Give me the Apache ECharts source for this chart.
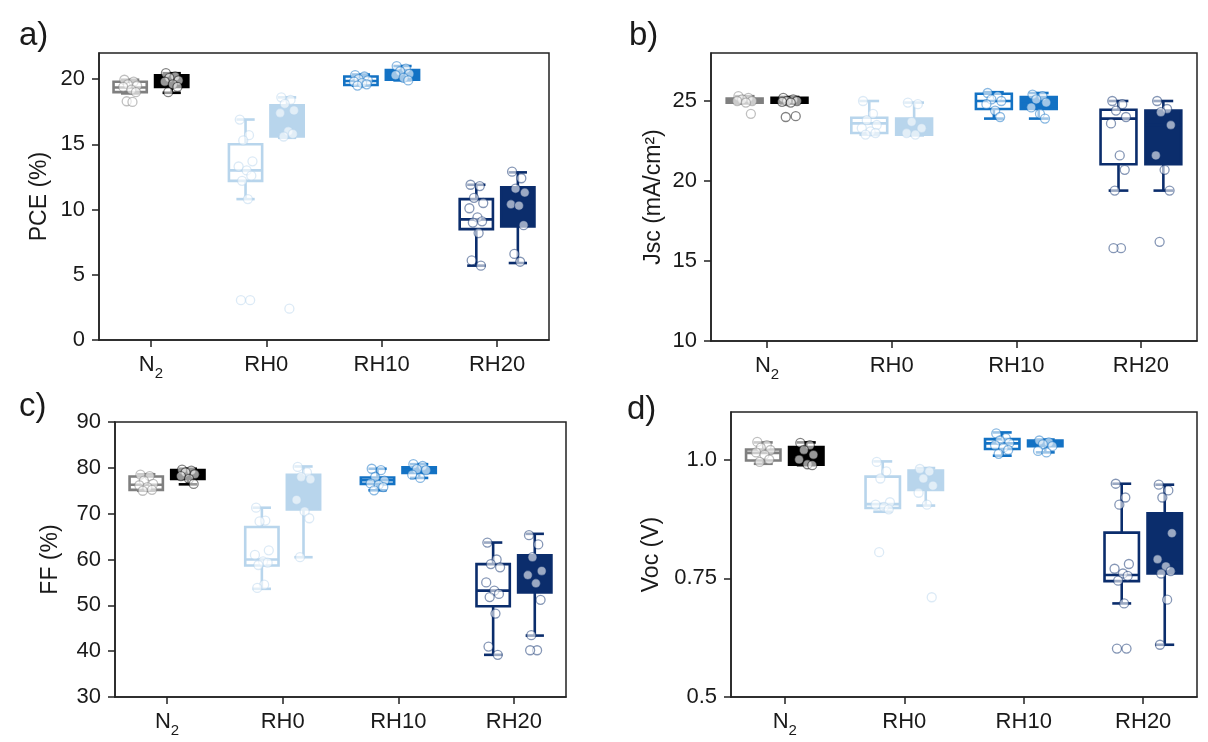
<!DOCTYPE html>
<html><head><meta charset="utf-8">
<script src="https://cdn.jsdelivr.net/npm/echarts@6/dist/echarts.min.js"></script>
<style>html,body{margin:0;padding:0;background:#fff}#c{width:1208px;height:742px}</style>
</head><body><div id="c"></div>
<script>
const categories = ['N2', 'RH0', 'RH10', 'RH20'];

// Box statistics: [lower whisker, Q1, median, Q3, upper whisker]
const pceBoxOpen   = [[18.9, 19.0, 19.35, 19.8, 19.95], [10.8, 12.2, 13.0, 15.0, 16.9], [19.5, 19.55, 19.85, 20.2, 20.35], [5.7, 8.5, 9.25, 10.8, 11.9]];
const pceBoxFilled = [[18.95, 19.4, 19.7, 20.3, 20.45], [15.5, 15.6, 16.6, 18.0, 18.6], [19.9, 19.95, 20.3, 20.7, 21.0], [5.9, 8.7, 10.3, 11.7, 12.85]];
const pcePtsOpen   = [[19.95, 19.8, 19.6, 19.5, 19.4, 19.2, 19.0, 18.3, 18.25], [16.9, 15.7, 15.3, 13.7, 13.3, 13.0, 12.6, 12.2, 10.8, 3.05, 3.05], [20.3, 20.2, 20.0, 19.9, 19.8, 19.7, 19.6, 19.5], [11.9, 11.8, 10.9, 10.5, 10.1, 9.4, 9.1, 9.0, 8.2, 6.1, 5.7]];
const pcePtsFilled = [[20.45, 20.2, 20.1, 19.9, 19.8, 19.6, 19.4, 19.0], [18.6, 18.4, 18.1, 17.6, 17.4, 16.0, 15.8, 15.6, 2.4], [21.0, 20.8, 20.6, 20.4, 20.3, 20.1, 19.9], [12.9, 12.4, 11.6, 11.3, 10.4, 10.3, 8.8, 6.6, 6.0]];

const jscBoxOpen   = [[24.85, 24.9, 25.0, 25.15, 25.3], [22.9, 23.0, 23.6, 23.95, 25.0], [23.9, 24.5, 25.0, 25.45, 25.55], [19.4, 21.05, 23.9, 24.45, 25.0]];
const jscBoxFilled = [[24.85, 24.9, 25.0, 25.2, 25.25], [22.85, 22.9, 23.3, 23.9, 24.9], [23.9, 24.5, 25.0, 25.25, 25.5], [19.4, 21.05, 23.5, 24.4, 25.0]];
const jscPtsOpen   = [[25.3, 25.2, 25.1, 25.0, 25.0, 24.9, 24.2], [25.0, 24.2, 23.8, 23.5, 23.3, 23.1, 23.0, 22.9], [25.5, 25.3, 25.1, 25.0, 24.8, 24.4, 24.0], [25.0, 24.8, 24.4, 24.0, 23.6, 21.6, 20.7, 19.4, 15.8, 15.8]];
const jscPtsFilled = [[25.2, 25.1, 25.0, 25.0, 24.95, 24.9, 24.05, 24.0], [24.9, 24.8, 23.7, 23.3, 23.0, 22.9], [25.4, 25.3, 25.1, 24.9, 24.6, 24.2, 23.9], [25.0, 24.5, 24.3, 23.5, 21.6, 20.7, 19.4, 16.2]];

const ffBoxOpen   = [[75.0, 75.2, 76.3, 78.1, 78.6], [53.6, 58.7, 60.0, 67.1, 71.3], [75.1, 76.5, 77.3, 77.9, 79.8], [39.2, 49.8, 53.2, 59.0, 63.7]];
const ffBoxFilled = [[76.4, 77.6, 78.5, 79.5, 79.8], [60.5, 70.9, 73.5, 78.5, 80.3], [77.8, 78.9, 79.5, 80.1, 80.8], [43.4, 52.8, 56.8, 60.9, 65.6]];
const ffPtsOpen   = [[78.5, 78.2, 77.2, 76.5, 76.2, 75.8, 75.2, 75.0], [71.3, 68.5, 68.3, 62.0, 61.0, 59.6, 59.3, 58.8, 54.5, 53.8], [79.8, 79.5, 78.0, 77.2, 76.6, 76.3, 75.8, 75.1], [63.7, 60.0, 59.0, 58.3, 55.0, 53.2, 52.5, 51.8, 48.2, 41.0, 39.2]];
const ffPtsFilled = [[79.6, 79.4, 79.0, 78.6, 78.2, 77.6, 76.5], [80.2, 79.0, 78.0, 77.5, 73.0, 70.5, 69.0, 60.5], [80.8, 80.4, 79.7, 79.5, 78.5, 77.8], [65.3, 63.3, 60.5, 57.5, 56.6, 54.8, 51.2, 43.5, 40.2, 40.2]];

const vocBoxOpen   = [[0.991, 0.998, 1.014, 1.021, 1.036], [0.89, 0.898, 0.906, 0.964, 0.996], [1.008, 1.022, 1.034, 1.043, 1.057], [0.697, 0.744, 0.757, 0.846, 0.949]];
const vocBoxFilled = [[0.988, 0.989, 1.01, 1.026, 1.036], [0.903, 0.936, 0.955, 0.977, 0.982], [1.015, 1.028, 1.034, 1.04, 1.042], [0.61, 0.76, 0.79, 0.887, 0.947]];
const vocPtsOpen   = [[1.037, 1.03, 1.025, 1.02, 1.015, 1.01, 1.0, 0.995], [0.995, 0.975, 0.96, 0.91, 0.905, 0.9, 0.895, 0.805], [1.055, 1.045, 1.04, 1.035, 1.03, 1.025, 1.02, 1.012], [0.949, 0.92, 0.905, 0.78, 0.77, 0.76, 0.755, 0.745, 0.697, 0.602, 0.602]];
const vocPtsFilled = [[1.035, 1.03, 1.02, 1.01, 1.0, 0.99, 0.988], [0.98, 0.975, 0.96, 0.945, 0.93, 0.905, 0.71], [1.04, 1.036, 1.032, 1.028, 1.018, 1.015], [0.947, 0.935, 0.92, 0.845, 0.79, 0.775, 0.765, 0.76, 0.705, 0.61]];

const pceTicks = [0, 5, 10, 15, 20];
const pceTickLabels = ['0', '5', '10', '15', '20'];
const jscTicks = [10, 15, 20, 25];
const jscTickLabels = ['10', '15', '20', '25'];
const ffTicks = [30, 40, 50, 60, 70, 80, 90];
const ffTickLabels = ['30', '40', '50', '60', '70', '80', '90'];
const vocTicks = [0.5, 0.75, 1.0];
const vocTickLabels = ['0.5', '0.75', '1.0'];

// ---------- styling / layout ----------
const COLORS_OPEN = ['#7f7f7f', '#b8d5ec', '#1372c4', '#0b2d6c'];
const COLORS_FILLED = ['#000000', '#b8d5ec', '#1372c4', '#0b2d6c'];
const DODGE = 0.18, BOX_W = 0.288, CAP = 0.55;
const JITTER = [-0.05, 0.03, -0.02, 0.06, -0.06, 0.01, 0.05, -0.03, 0.02, -0.04, 0.04, 0.0];
const FONT = 'Liberation Sans, Arial, sans-serif';
const TXT = '#1a1a1a';
const FS = 22, FS_NAME = 23;

const panels = [
  {letter: 'a)', name: 'PCE (%)', min: 0, max: 22, ticks: pceTicks, labels: pceTickLabels,
   grid: {left: 99, top: 53, width: 450, height: 287}, nameGap: 48,
   bo: pceBoxOpen, bf: pceBoxFilled, po: pcePtsOpen, pf: pcePtsFilled, lx: 19, ly: 19},
  {letter: 'b)', name: 'Jsc (mA/cm²)', min: 10, max: 28, ticks: jscTicks, labels: jscTickLabels,
   grid: {left: 711, top: 53, width: 486, height: 288}, nameGap: 46,
   bo: jscBoxOpen, bf: jscBoxFilled, po: jscPtsOpen, pf: jscPtsFilled, lx: 629, ly: 19},
  {letter: 'c)', name: 'FF (%)', min: 30, max: 90, ticks: ffTicks, labels: ffTickLabels,
   grid: {left: 115, top: 422, width: 451, height: 275}, nameGap: 53,
   bo: ffBoxOpen, bf: ffBoxFilled, po: ffPtsOpen, pf: ffPtsFilled, lx: 19, ly: 390},
  {letter: 'd)', name: 'Voc (V)', min: 0.5, max: 1.1, ticks: vocTicks, labels: vocTickLabels,
   grid: {left: 731, top: 412, width: 466, height: 285}, nameGap: 68,
   bo: vocBoxOpen, bf: vocBoxFilled, po: vocPtsOpen, pf: vocPtsFilled, lx: 627, ly: 393}
];

function renderBox(filled) {
  return function (params, api) {
    const x = api.value(0);
    const ci = Math.round(x);
    const col = filled ? COLORS_FILLED[ci] : COLORS_OPEN[ci];
    const cx = api.coord([x, api.value(3)])[0];
    const yLo = api.coord([x, api.value(1)])[1];
    const yQ1 = api.coord([x, api.value(2)])[1];
    const yMed = api.coord([x, api.value(3)])[1];
    const yQ3 = api.coord([x, api.value(4)])[1];
    const yHi = api.coord([x, api.value(5)])[1];
    const w = api.size([BOX_W, 0])[0];
    const ch = w * CAP / 2;
    const st = {stroke: col, lineWidth: 2.6, lineCap: 'butt'};
    return {type: 'group', children: [
      {type: 'line', shape: {x1: cx, y1: yQ3, x2: cx, y2: yHi}, style: st},
      {type: 'line', shape: {x1: cx, y1: yQ1, x2: cx, y2: yLo}, style: st},
      {type: 'line', shape: {x1: cx - ch, y1: yHi, x2: cx + ch, y2: yHi}, style: st},
      {type: 'line', shape: {x1: cx - ch, y1: yLo, x2: cx + ch, y2: yLo}, style: st},
      {type: 'rect', shape: {x: cx - w / 2, y: yQ3, width: w, height: yQ1 - yQ3},
       style: {fill: filled ? col : '#ffffff', stroke: col, lineWidth: 2.6}},
      {type: 'line', shape: {x1: cx - w / 2, y1: yMed, x2: cx + w / 2, y2: yMed}, style: st}
    ]};
  };
}

function hexA(hex, a) {
  const n = parseInt(hex.slice(1), 16);
  return 'rgba(' + (n >> 16) + ',' + ((n >> 8) & 255) + ',' + (n & 255) + ',' + a + ')';
}

const grids = [], xAxes = [], yAxes = [], series = [], graphics = [];
panels.forEach(function (p, k) {
  grids.push(Object.assign({show: true, borderColor: '#222', borderWidth: 1.5, backgroundColor: '#fff'}, p.grid));
  xAxes.push({
    type: 'value', gridIndex: k, min: -0.45, max: 3.45,
    splitLine: {show: false},
    axisLine: {show: true, onZero: false, lineStyle: {color: '#222', width: 1.5}},
    axisTick: {show: true, length: 7, lineStyle: {color: '#222', width: 1.5}, customValues: [0, 1, 2, 3]},
    axisLabel: {
      customValues: [0, 1, 2, 3], margin: 14, color: TXT, fontFamily: FONT, fontSize: FS,
      formatter: function (v) { const i = Math.round(v); return i === 0 ? '{n|N}{s|2}' : '{n|' + categories[i] + '}'; },
      rich: {
        n: {fontFamily: FONT, fontSize: FS, color: TXT, verticalAlign: 'top'},
        s: {fontFamily: FONT, fontSize: 15, color: TXT, verticalAlign: 'top', padding: [12, 0, 0, 0]}
      }
    }
  });
  yAxes.push({
    type: 'value', gridIndex: k, min: p.min, max: p.max,
    name: p.name, nameLocation: 'middle', nameGap: p.nameGap,
    nameTextStyle: {fontFamily: FONT, fontSize: FS_NAME, color: TXT},
    splitLine: {show: false},
    axisLine: {show: true, onZero: false, lineStyle: {color: '#222', width: 1.5}},
    axisTick: {show: true, length: 7, lineStyle: {color: '#222', width: 1.5}, customValues: p.ticks},
    axisLabel: {
      customValues: p.ticks, margin: 14, color: TXT, fontFamily: FONT, fontSize: FS,
      formatter: function (v) { const i = p.ticks.indexOf(v); return i >= 0 ? p.labels[i] : ''; }
    }
  });
  [[p.bo, false, -DODGE], [p.bf, true, DODGE]].forEach(function (g) {
    series.push({
      type: 'custom', xAxisIndex: k, yAxisIndex: k, z: 2,
      dimensions: ['x', 'lo', 'q1', 'med', 'q3', 'hi'],
      encode: {x: 0, y: [1, 2, 3, 4, 5]},
      renderItem: renderBox(g[1]),
      data: g[0].map(function (b, i) { return [i + g[2]].concat(b); })
    });
  });
  [[p.po, false, -DODGE], [p.pf, true, DODGE]].forEach(function (g) {
    const data = [];
    g[0].forEach(function (vals, i) {
      const col = g[1] ? COLORS_FILLED[i] : COLORS_OPEN[i];
      vals.forEach(function (v, j) {
        data.push({value: [i + g[2] + JITTER[j % JITTER.length], v],
          itemStyle: {color: 'rgba(255,255,255,0.74)', borderColor: hexA(col, 0.62), borderWidth: 1.3}});
      });
    });
    series.push({type: 'scatter', xAxisIndex: k, yAxisIndex: k, z: 3, symbol: 'circle', symbolSize: 9, data: data});
  });
  graphics.push({type: 'text', left: p.lx, top: p.ly, style: {text: p.letter, font: '33px ' + FONT, fill: TXT}});
});

const chart = echarts.init(document.getElementById('c'), null, {renderer: 'canvas'});
chart.setOption({
  animation: false,
  backgroundColor: '#ffffff',
  grid: grids, xAxis: xAxes, yAxis: yAxes, series: series, graphic: graphics
});
</script>
</body></html>
